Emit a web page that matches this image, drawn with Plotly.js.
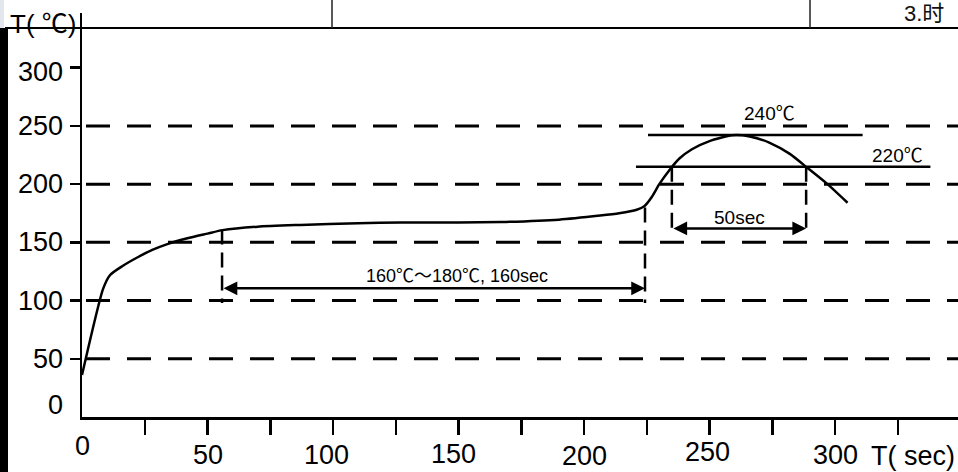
<!DOCTYPE html>
<html>
<head>
<meta charset="utf-8">
<script src="https://cdn.plot.ly/plotly-3.0.1.min.js"></script>
<style>
  html, body { margin: 0; padding: 0; background: #fff; }
  #chart { width: 958px; height: 472px; }
</style>
</head>
<body>
<div id="chart"></div>
<script>
// ---------------- data ----------------
const timeSec = [0, 8.4, 11.2, 16, 22, 28, 34, 42, 50, 56, 70, 87, 110, 127, 150, 167, 190, 206.4, 214, 221, 224, 227, 230, 234, 238, 243, 250, 259, 266, 274, 282, 289, 297, 305];
const tempC   = [36, 110, 122, 129.5, 137, 143.5, 148.5, 153.5, 157.5, 160.5, 163.5, 165, 166.5, 167, 167, 167.5, 169.5, 173, 175, 178, 181, 189, 200, 212, 222, 230, 237, 242, 241, 235.5, 226, 214, 200, 184];

const gridTemps = [50, 100, 150, 200, 250];
const yTickVals = [0, 50, 100, 150, 200, 250, 300];
const yTickText = ['0', '50', '100', '150', '200', '250', '300'];
const xTickVals = [0, 50, 100, 150, 200, 250, 300];
const xTickText = ['0', '50', '100', '150', '200', '250', '300'];
const xMinorTicks = [25, 50, 75, 100, 125, 150, 175, 200, 225, 250, 275, 300, 325];

const soakTimes = [55.8, 224.3];      // start / end of soak window
const soakTops = [161, 180];          // curve temperature at those times
const soakBottom = 100;
const soakArrowTemp = 110.5;
const soakLabel = '160℃～180℃, 160sec';
const soakLabelTime = 149.4;

const reflowTimes = [235, 288.5];     // crossings of 220℃ level
const reflowTop = 215;
const reflowBottom = 157;
const reflowArrowTemp = 162;
const reflowLabel = '50sec';

const peakLineTemp = 242.3;
const peakLineTimes = [225.5, 311];
const peakLabel = '240℃';
const peakLabelTime = 274;
const liqLineTemp = 215;
const liqLineTimes = [220.7, 338];
const liqLabel = '220℃';
const liqLabelTime = 325;

const yTitle = 'T( ℃)';
const xTitle = 'T( sec)';
const headerText = '3.时';

// ---------------- styles ----------------
const PL = 82, PT = 13, PW = 876, PH = 404;
const px2paperX = p => (p - PL) / PW;
const px2paperY = p => (PT + PH - p) / PH;
const FONT = '"Liberation Sans", Arial, "Noto Sans CJK SC", sans-serif';
const TICK_SIZE = 27;
const xLabelDrop = [29, 38, 38, 37, 39, 35, 38];
const xLabelShift = [0, 0, -7, -5, 0, -2, 0];
const yLabelShift = [12, 0, 0, 0, 0, 0, -4];

const shapes = [];
const annotations = [];

// dashed horizontal guide lines
gridTemps.forEach(t => shapes.push({
  type: 'line', xref: 'paper', yref: 'y', x0: px2paperX(86), x1: 1, y0: t, y1: t,
  line: { color: '#000', width: 3, dash: '24px,17px' }
}));

// soak verticals
soakTimes.forEach((s, i) => shapes.push({
  type: 'line', xref: 'x', yref: 'y', x0: s, x1: s, y0: soakTops[i], y1: soakBottom - 2,
  line: { color: '#000', width: 2.5, dash: '15px,8px' }
}));
// reflow verticals
reflowTimes.forEach(s => shapes.push({
  type: 'line', xref: 'x', yref: 'y', x0: s, x1: s, y0: reflowTop, y1: reflowBottom,
  line: { color: '#000', width: 2.5, dash: '15px,8px' }
}));
// peak & liquidus solid lines
shapes.push({ type: 'line', xref: 'x', yref: 'y', x0: peakLineTimes[0], x1: peakLineTimes[1], y0: peakLineTemp, y1: peakLineTemp, line: { color: '#000', width: 2.5 } });
shapes.push({ type: 'line', xref: 'x', yref: 'y', x0: liqLineTimes[0], x1: liqLineTimes[1], y0: liqLineTemp, y1: liqLineTemp, line: { color: '#000', width: 2.5 } });

// document decorations (table border from the scanned page)
shapes.push({ type: 'line', xref: 'paper', yref: 'paper', x0: px2paperX(5), x1: px2paperX(958), y0: px2paperY(28), y1: px2paperY(28), line: { color: '#000', width: 2 } });
shapes.push({ type: 'line', xref: 'paper', yref: 'paper', x0: px2paperX(332), x1: px2paperX(332), y0: px2paperY(0), y1: px2paperY(28), line: { color: '#222', width: 1.5 } });
shapes.push({ type: 'line', xref: 'paper', yref: 'paper', x0: px2paperX(810), x1: px2paperX(810), y0: px2paperY(0), y1: px2paperY(28), line: { color: '#222', width: 1.5 } });
shapes.push({ type: 'rect', xref: 'paper', yref: 'paper', x0: px2paperX(0), x1: px2paperX(8), y0: px2paperY(472), y1: px2paperY(28), fillcolor: '#000', line: { width: 0 } });
shapes.push({ type: 'rect', xref: 'paper', yref: 'paper', x0: px2paperX(0), x1: px2paperX(4), y0: px2paperY(28), y1: px2paperY(0), fillcolor: '#e4e6ee', line: { width: 0 } });

// arrows
annotations.push({
  xref: 'x', yref: 'y', axref: 'x', ayref: 'y', x: soakTimes[1], y: soakArrowTemp, ax: soakTimes[0], ay: soakArrowTemp,
  text: '', showarrow: true, arrowside: 'end+start', arrowhead: 2, startarrowhead: 2,
  arrowsize: 1.1, startarrowsize: 1.1, arrowwidth: 2.5, arrowcolor: '#000', standoff: 0, startstandoff: 0
});
annotations.push({
  xref: 'x', yref: 'y', axref: 'x', ayref: 'y', x: reflowTimes[1], y: reflowArrowTemp, ax: reflowTimes[0], ay: reflowArrowTemp,
  text: '', showarrow: true, arrowside: 'end+start', arrowhead: 2, startarrowhead: 2,
  arrowsize: 1.1, startarrowsize: 1.1, arrowwidth: 2.5, arrowcolor: '#000', standoff: 0, startstandoff: 0
});

// labels
const lab = (text, x, y, size) => ({ xref: 'x', yref: 'y', x, y, text, showarrow: false, font: { family: FONT, size, color: '#000' }, xanchor: 'center', yanchor: 'middle' });
annotations.push(lab(soakLabel, soakLabelTime, soakArrowTemp + 11, 18));
annotations.push(lab(reflowLabel, (reflowTimes[0] + reflowTimes[1]) / 2, reflowArrowTemp + 9, 19));
annotations.push(lab(peakLabel, peakLabelTime, peakLineTemp + 18, 19));
annotations.push(lab(liqLabel, liqLabelTime, liqLineTemp + 9.5, 19));

// tick labels
xTickVals.forEach((v, i) => annotations.push({
  xref: 'x', yref: 'paper', x: v, y: 0, text: xTickText[i], showarrow: false,
  xanchor: 'center', yanchor: 'middle', yshift: -xLabelDrop[i], xshift: xLabelShift[i],
  font: { family: FONT, size: TICK_SIZE, color: '#000' }
}));
yTickVals.forEach((v, i) => annotations.push({
  xref: 'paper', yref: 'y', x: px2paperX(65), y: v, text: yTickText[i], showarrow: false,
  xanchor: 'right', yanchor: 'middle', yshift: yLabelShift[i],
  font: { family: FONT, size: TICK_SIZE, color: '#000' }
}));
// axis titles
annotations.push({ xref: 'paper', yref: 'paper', x: px2paperX(43), y: px2paperY(24), text: yTitle, showarrow: false, xanchor: 'center', yanchor: 'middle', font: { family: FONT, size: 26, color: '#000' } });
annotations.push({ xref: 'paper', yref: 'paper', x: px2paperX(913), y: px2paperY(456), text: xTitle, showarrow: false, xanchor: 'center', yanchor: 'middle', font: { family: FONT, size: 27, color: '#000' } });
annotations.push({ xref: 'paper', yref: 'paper', x: px2paperX(902), y: px2paperY(13), text: headerText, showarrow: false, xanchor: 'left', yanchor: 'middle', font: { family: FONT, size: 22, color: '#111' } });

const trace = {
  x: timeSec, y: tempC, type: 'scatter', mode: 'lines',
  line: { color: '#000', width: 2.5, shape: 'spline', smoothing: 0.6 },
  hoverinfo: 'skip', cliponaxis: false
};

const layout = {
  width: 958, height: 472,
  margin: { l: PL, r: 0, t: PT, b: 472 - PT - PH, pad: 0 },
  paper_bgcolor: '#fff', plot_bgcolor: '#fff',
  showlegend: false,
  xaxis: {
    range: [0, 349], showgrid: false, zeroline: false,
    showline: true, linecolor: '#000', linewidth: 3,
    tickmode: 'array', tickvals: xMinorTicks, ticks: 'outside', ticklen: 15, tickwidth: 2.5, tickcolor: '#000',
    showticklabels: false, fixedrange: true
  },
  yaxis: {
    range: [0, 347], showgrid: false, zeroline: false,
    showline: true, linecolor: '#000', linewidth: 2.5,
    tickmode: 'array', tickvals: yTickVals.slice(1), ticks: 'outside', ticklen: 10, tickwidth: 2.5, tickcolor: '#000',
    showticklabels: false, fixedrange: true
  },
  shapes, annotations
};

Plotly.newPlot('chart', [trace], layout, { displayModeBar: false, staticPlot: true });
</script>
</body>
</html>
